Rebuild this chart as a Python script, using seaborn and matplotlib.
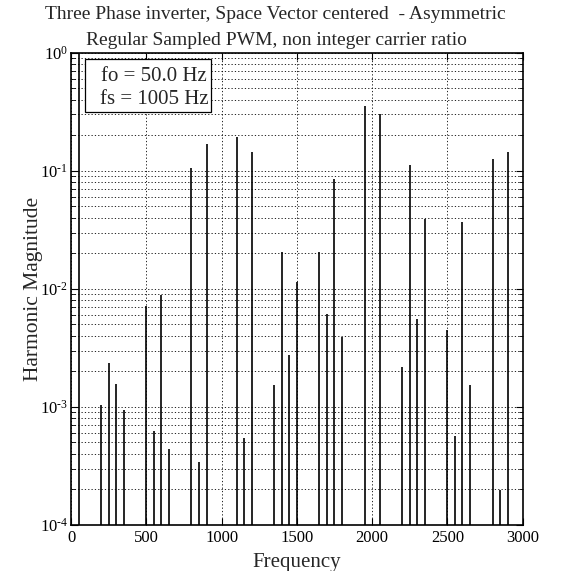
import numpy as np
import pandas as pd
import seaborn as sns
import matplotlib
matplotlib.use("Agg")
import matplotlib.pyplot as plt
from matplotlib.ticker import LogLocator, FixedLocator, NullFormatter, FuncFormatter
from matplotlib.patches import Rectangle

# ---- data ----
freq = [50, 200, 250, 300, 350, 500, 550, 600, 650, 800, 850, 900,
        1100, 1150, 1200, 1350, 1400, 1450, 1500, 1650, 1700, 1750, 1800,
        1950, 2050, 2200, 2250, 2300, 2350, 2500, 2550, 2600, 2650,
        2800, 2850, 2900]
magnitude = [1.0, 1.04e-3, 2.37e-3, 1.57e-3, 9.4e-4, 7.2e-3, 6.3e-4, 8.9e-3, 4.4e-4,
             0.106, 3.4e-4, 0.168,
             0.192, 5.5e-4, 0.143, 1.54e-3, 0.0205, 2.76e-3, 0.0115, 0.0204, 6.1e-3,
             0.0853, 3.9e-3,
             0.356, 0.303, 2.18e-3, 0.112, 5.6e-3, 0.0393, 4.5e-3, 5.7e-4, 0.0368,
             1.53e-3, 0.126, 1.98e-4, 0.143]
x_ticks = [0, 500, 1000, 1500, 2000, 2500, 3000]
y_decades = [1e-4, 1e-3, 1e-2, 1e-1, 1e0]
title_lines = ["Three Phase inverter, Space Vector centered  - Asymmetric",
               "Regular Sampled PWM, non integer carrier ratio"]
legend_lines = ["fo = 50.0 Hz", "fs = 1005 Hz"]

df = pd.DataFrame({"Frequency": freq, "Magnitude": magnitude})

sns.set_style("ticks")
plt.rcParams["font.family"] = ["Liberation Serif", "DejaVu Serif"]
plt.rcParams["mathtext.fontset"] = "custom"
plt.rcParams["mathtext.rm"] = "Liberation Serif"
plt.rcParams["mathtext.it"] = "Liberation Serif:italic"
plt.rcParams["mathtext.bf"] = "Liberation Serif:bold"

W, H = 573, 571
fig = plt.figure(figsize=(W / 100, H / 100), dpi=100)
fig.patch.set_facecolor("white")
L, R, T, B = 71, 522.7, 52.7, 525
ax = fig.add_axes([L / W, 1 - B / H, (R - L) / W, (B - T) / H])
ax.set_facecolor("white")

ax.set_yscale("log")
ax.set_xlim(0, 3000)
ax.set_ylim(1e-4, 1e0)

# stems from the bottom of the axis up to each harmonic magnitude
ax.vlines(df["Frequency"], 1e-4, df["Magnitude"], colors="black", linewidth=1.2, zorder=3)

# grids (MATLAB-like dotted)
dot = (0, (1.5, 2.5))
ax.xaxis.set_major_locator(FixedLocator(x_ticks))
ax.yaxis.set_major_locator(FixedLocator(y_decades))
ax.yaxis.set_minor_locator(LogLocator(base=10, subs=np.arange(2, 10)))
ax.grid(True, which="major", axis="x", color="black", linestyle=dot, linewidth=0.6)
ax.grid(True, which="both", axis="y", color="black", linestyle=dot, linewidth=0.6)

HY = "\N{HYPHEN}"
def fmt(v, pos):
    e = int(round(np.log10(v)))
    s = (HY + str(-e)) if e < 0 else str(e)
    return r"$10^{%s}$" % s
ax.yaxis.set_major_formatter(FuncFormatter(fmt))
ax.yaxis.set_minor_formatter(NullFormatter())
ax.set_xticklabels([str(t) for t in x_ticks])

ax.tick_params(which="both", direction="in", top=True, right=True, colors="black",
               labelsize=12)
ax.tick_params(which="major", length=5, width=0.8)
ax.tick_params(which="minor", length=3, width=0.6)
ax.tick_params(axis="y", pad=2)
for s in ax.spines.values():
    s.set_visible(True)
    s.set_color("black")
    s.set_linewidth(1.2)

ax.set_xlabel("Frequency", fontsize=15, labelpad=5)
ax.set_ylabel("Harmonic Magnitude", fontsize=15.5)
ax.yaxis.set_label_coords(-0.062, 0.5)

# title (two lines)
fig.text(275 / W, 1 - 19 / H, title_lines[0], ha="center", va="baseline", fontsize=14)
fig.text(276 / W, 1 - 45 / H, title_lines[1], ha="center", va="baseline", fontsize=14)

# legend-like annotation box
bx0, by0, bx1, by1 = 85, 59, 210.7, 111.7
fig.patches.append(Rectangle((bx0 / W, 1 - by1 / H), (bx1 - bx0) / W, (by1 - by0) / H,
                             transform=fig.transFigure, facecolor="white",
                             edgecolor="black", linewidth=0.9, zorder=5))
fig.text(154 / W, 1 - 81 / H, legend_lines[0], ha="center", va="baseline", fontsize=15, zorder=6)
fig.text(154 / W, 1 - 104.5 / H, legend_lines[1], ha="center", va="baseline", fontsize=15, zorder=6)

fig.savefig("out.png", dpi=100, facecolor="white")
